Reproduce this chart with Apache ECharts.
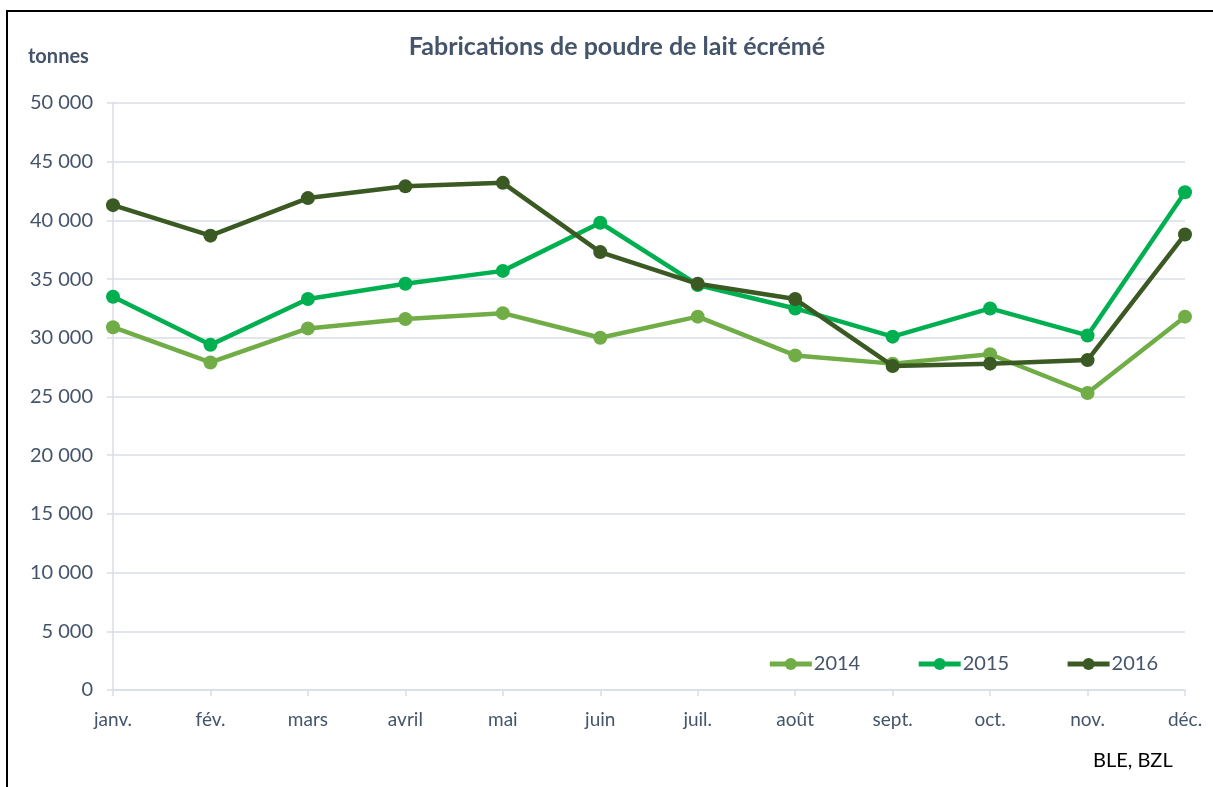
<!DOCTYPE html>
<html>
<head>
<meta charset="utf-8">
<script src="https://cdn.jsdelivr.net/npm/echarts@6/dist/echarts.min.js"></script>
<style>
  html, body { margin: 0; padding: 0; background: #fff; }
  #chart { width: 1213px; height: 787px; }
</style>
</head>
<body>
<div id="chart"></div>
<script>
// Donnees (tonnes)
var categories = ['janv.', 'fév.', 'mars', 'avril', 'mai', 'juin', 'juil.', 'août', 'sept.', 'oct.', 'nov.', 'déc.'];
var data2014 = [30900, 27900, 30800, 31600, 32100, 30000, 31800, 28500, 27800, 28600, 25300, 31800];
var data2015 = [33500, 29400, 33300, 34600, 35700, 39800, 34500, 32500, 30100, 32500, 30200, 42400];
var data2016 = [41300, 38700, 41900, 42900, 43200, 37300, 34600, 33300, 27600, 27800, 28100, 38800];
var seriesNames = ['2014', '2015', '2016'];
var colors = ['#70AD47', '#00B050', '#3B5A23'];

var textColor = '#44546A';
var fontFamily = 'Lato, "Open Sans", sans-serif';

var chart = echarts.init(document.getElementById('chart'));

function fmt(v) {
    return String(v).replace(/\B(?=(\d{3})+(?!\d))/g, ' ');
}

var allData = [data2014, data2015, data2016];

var option = {
    backgroundColor: '#fff',
    animation: false,
    textStyle: { fontFamily: fontFamily },
    title: {
        text: 'Fabrications de poudre de lait écrémé',
        left: 612,
        textAlign: 'center',
        top: 29,
        textStyle: { color: textColor, fontSize: 25, fontWeight: 'bold', fontFamily: fontFamily }
    },
    legend: {
        right: 50,
        top: 649,
        itemWidth: 42,
        itemHeight: 15,
        itemGap: 56,
        lineStyle: { width: 5 },
        textStyle: { color: textColor, fontSize: 20, fontFamily: fontFamily, padding: [0, 0, 0, -3] },
        data: seriesNames
    },
    grid: { left: 113, right: 28, top: 103, bottom: 97 },
    xAxis: {
        type: 'category',
        boundaryGap: false,
        data: categories,
        axisLine: { lineStyle: { color: '#D9DEE6', width: 1.5 } },
        axisTick: { show: true, alignWithLabel: true, length: 6, lineStyle: { color: '#D9DEE6', width: 1.5 } },
        axisLabel: { color: textColor, fontSize: 19, margin: 20 }
    },
    yAxis: {
        type: 'value',
        min: 0,
        max: 50000,
        interval: 5000,
        name: 'tonnes',
        nameLocation: 'end',
        nameGap: 36,
        nameTextStyle: { color: textColor, fontSize: 20, fontWeight: 'bold', align: 'left', padding: [0, 0, 0, -85] },
        axisLine: { show: true, lineStyle: { color: '#D9DEE6', width: 1.5 } },
        axisTick: { show: true, length: 6, lineStyle: { color: '#D9DEE6', width: 1.5 } },
        axisLabel: { color: textColor, fontSize: 20, margin: 20, formatter: fmt },
        splitLine: { lineStyle: { color: '#D9DEE6', width: 1.5 } }
    },
    series: seriesNames.map(function (name, i) {
        return {
            name: name,
            type: 'line',
            data: allData[i],
            color: colors[i],
            symbol: 'circle',
            symbolSize: 14,
            lineStyle: { width: 4.5 },
            z: 2 + (i === 1 ? 0 : i)
        };
    }),
    graphic: [
        { type: 'line', shape: { x1: 7, y1: 11, x2: 1213, y2: 11 }, style: { stroke: '#000', lineWidth: 2 } },
        { type: 'line', shape: { x1: 7, y1: 10, x2: 7, y2: 787 }, style: { stroke: '#000', lineWidth: 2 } },
        { type: 'text', left: 1093, top: 751, style: { text: 'BLE, BZL', fill: '#000', font: '20px ' + fontFamily } }
    ]
};

chart.setOption(option);
</script>
</body>
</html>
